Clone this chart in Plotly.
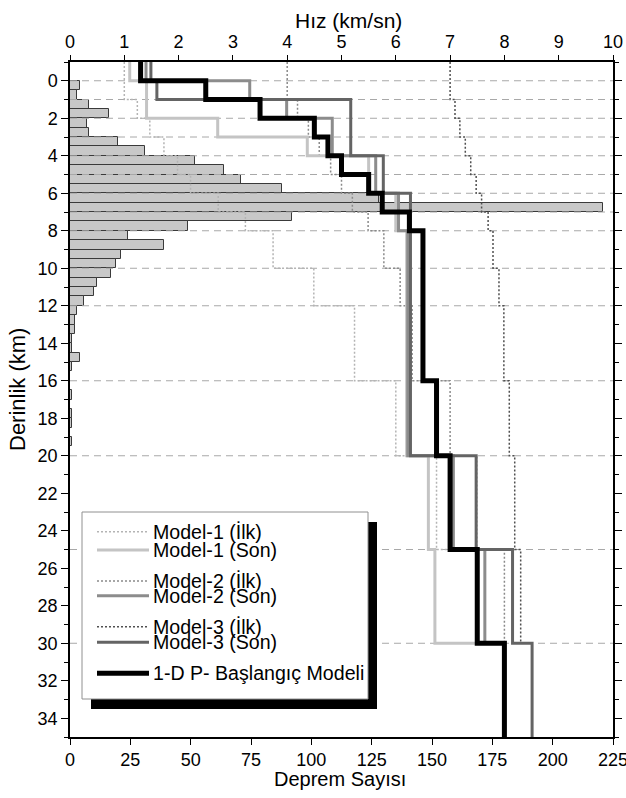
import plotly.graph_objects as go

# ---------------- data ----------------
# earthquake histogram (0.5 km depth bins)
bin_centers = [0.25 + 0.5 * i for i in range(39)]
counts = [4, 3, 8, 16, 7, 8, 20, 31, 52, 64, 71, 88, 128, 221, 92, 49, 24, 39,
          21, 19, 17, 11, 10, 6, 3, 2, 2, 1, 1, 4, 1, 0, 0, 1, 0, 1, 1, 0, 1]

# layer boundaries (dashed grid lines)
grid_depths = [0, 1, 2, 3, 4, 5, 6, 7, 8, 10, 12, 16, 20, 25, 30]

# initial models (layer tops incl. bottom) and velocities
ilk_tops = [-1, 1, 2, 3, 4, 5, 6, 7, 8, 10, 12, 16, 20, 25, 30]
m1_ilk_v = [1.0, 1.24, 1.47, 1.73, 1.98, 2.22, 2.73, 3.23, 3.74, 4.49, 5.24, 6.0, 6.75, 7.5]
m2_ilk_v = [4.0, 4.19, 4.39, 4.59, 4.8, 5.0, 5.2, 5.49, 5.78, 6.08, 6.3, 7.0, 7.49, 8.0]
m3_ilk_v = [7.0, 7.09, 7.18, 7.28, 7.38, 7.48, 7.58, 7.7, 7.79, 7.9, 7.99, 8.09, 8.19, 8.3]

# final models
m1_son_tops = [-1, 0, 2, 3, 4, 6, 8, 20, 25, 30]
m1_son_v = [1.10, 1.41, 2.72, 4.37, 5.5, 6.0, 6.2, 6.6, 6.72, 7.5]
m2_son_tops = [-1, 0, 1, 2, 4, 6, 8, 20, 25, 30]
m2_son_v = [1.40, 3.31, 3.99, 4.83, 5.63, 6.05, 6.22, 7.06, 7.64, 8.0]
m3_son_tops = [-1, 0, 1, 4, 6, 20, 25, 30, 35]
m3_son_v = [1.49, 1.6, 5.17, 5.77, 6.27, 7.48, 8.15, 8.51]

# 1-D P initial model
p1d_tops = [-1, 0, 1, 2, 3, 4, 5, 6, 7, 8, 16, 20, 25, 30, 35]
p1d_v = [1.3, 2.5, 3.5, 4.5, 4.75, 5.0, 5.5, 5.75, 6.25, 6.5, 6.75, 7.0, 7.5, 8.0]

depth_ticks = list(range(0, 35, 2))
vel_ticks = list(range(0, 11))
count_ticks = list(range(0, 226, 25))

legend_labels = ["Model-1 (İlk)", "Model-1 (Son)", "Model-2 (İlk)", "Model-2 (Son)",
                 "Model-3 (İlk)", "Model-3 (Son)", "1-D P- Başlangıç Modeli"]


def step(tops, vels):
    xs, ys = [], []
    for i, v in enumerate(vels):
        xs.append(v); ys.append(tops[i])
        if i + 1 < len(tops):
            xs.append(v); ys.append(tops[i + 1])
    return xs, ys


FONT = "Liberation Sans, Arial, sans-serif"
fig = go.Figure()

# grid lines
gx, gy = [], []
for d in grid_depths:
    gx += [0, 225, None]
    gy += [d, d, None]
fig.add_trace(go.Scatter(x=gx, y=gy, mode="lines", xaxis="x", yaxis="y",
                         line=dict(color="#a8a8a8", width=1, dash="7px,5px"),
                         hoverinfo="skip", showlegend=False))

# histogram
fig.add_trace(go.Bar(x=counts, y=bin_centers, orientation="h", width=0.5,
                     marker=dict(color="#c8c8c8", line=dict(color="#3a3a3a", width=1)),
                     xaxis="x", yaxis="y", showlegend=False))

styles = [
    (ilk_tops, m1_ilk_v, "#b4b4b4", 1.5, "2px,2px"),
    (ilk_tops, m2_ilk_v, "#8a8a8a", 1.5, "2px,2px"),
    (ilk_tops, m3_ilk_v, "#505050", 1.5, "2px,2px"),
    (m1_son_tops, m1_son_v, "#c4c4c4", 3, "solid"),
    (m2_son_tops, m2_son_v, "#8c8c8c", 3, "solid"),
    (m3_son_tops, m3_son_v, "#646464", 3, "solid"),
    (p1d_tops, p1d_v, "#000000", 5, "solid"),
]
for tops, vels, col, w, dash in styles:
    xs, ys = step(tops, vels)
    fig.add_trace(go.Scatter(x=xs, y=ys, mode="lines", xaxis="x2", yaxis="y",
                             line=dict(color=col, width=w, dash=dash, shape="linear"),
                             hoverinfo="skip", showlegend=False))

# ---- layout geometry (page pixels; body margin removed below) ----
FIG_W, FIG_H = 626, 798
L, R, T, B = 70, 613, 62, 737          # plot area in page pixels
W, H = R - L, B - T


def px(x):
    return (x - L) / W


def py(y):
    return (B - y) / H


shapes = []
shapes.append(dict(type="rect", xref="paper", yref="paper", layer="above",
                   x0=px(91), x1=px(377), y0=py(709), y1=py(522),
                   fillcolor="black", line=dict(width=0)))
shapes.append(dict(type="rect", xref="paper", yref="paper", layer="above",
                   x0=px(82), x1=px(368), y0=py(699), y1=py(512),
                   fillcolor="white", line=dict(color="#909090", width=1)))
leg_y = [531.7, 550, 581, 595.7, 626.7, 642.3, 673.3]
leg_styles = [("#b4b4b4", 1.5, "2px,2px"), ("#c4c4c4", 3, "solid"),
              ("#8a8a8a", 1.5, "2px,2px"), ("#8c8c8c", 3, "solid"),
              ("#505050", 1.5, "2px,2px"), ("#646464", 3, "solid"),
              ("#000000", 5, "solid")]
annotations = []
for yy, (col, w, dash), lab in zip(leg_y, leg_styles, legend_labels):
    shapes.append(dict(type="line", xref="paper", yref="paper", layer="above",
                       x0=px(97), x1=px(149), y0=py(yy), y1=py(yy),
                       line=dict(color=col, width=w, dash=dash)))
    annotations.append(dict(xref="paper", yref="paper", x=px(151), y=py(yy),
                            xanchor="left", yanchor="middle", showarrow=False,
                            text=lab, font=dict(family=FONT, size=19.6, color="black")))

# axis titles
annotations.append(dict(xref="paper", yref="paper", x=px(348), y=py(20), showarrow=False,
                        xanchor="center", yanchor="middle", text="Hız (km/sn)",
                        font=dict(family=FONT, size=21, color="black")))
annotations.append(dict(xref="paper", yref="paper", x=px(340), y=py(779), showarrow=False,
                        xanchor="center", yanchor="middle", text="Deprem Sayısı",
                        font=dict(family=FONT, size=20, color="black")))
annotations.append(dict(xref="paper", yref="paper", x=px(18), y=py(390), showarrow=False,
                        xanchor="center", yanchor="middle", text="Derinlik (km)", textangle=-90,
                        font=dict(family=FONT, size=22, color="black")))

tickfont = dict(family=FONT, size=18, color="black")
fig.update_layout(
    width=FIG_W, height=FIG_H,
    margin=dict(l=L, r=FIG_W - R, t=T, b=FIG_H - B, autoexpand=False),
    paper_bgcolor="white", plot_bgcolor="white",
    showlegend=False,
    bargap=0,
    xaxis=dict(range=[0, 225], tickvals=count_ticks, ticks="outside", ticklen=6,
               tickcolor="black", showline=True, linecolor="black", linewidth=1.5,
               showgrid=False, zeroline=False, tickfont=tickfont, side="bottom",
               automargin=False, ticklabeloverflow="allow"),
    xaxis2=dict(range=[0, 10], tickvals=vel_ticks, ticks="outside", ticklen=5,
                tickcolor="black", showline=True, linecolor="black", linewidth=1.5,
                showgrid=False, zeroline=False, tickfont=tickfont, side="top",
                overlaying="x", anchor="y", automargin=False, ticklabeloverflow="allow"),
    yaxis=dict(range=[35, -1], tickvals=depth_ticks, ticks="outside", ticklen=7,
               tickcolor="black", showline=True, linecolor="black", linewidth=1.5,
               mirror="ticks", showgrid=False, zeroline=False, tickfont=tickfont,
               automargin=False,
               minor=dict(dtick=1, tick0=0, ticks="outside", ticklen=4, tickcolor="black",
                          showgrid=False)),
    shapes=shapes,
    annotations=annotations,
)

fig.write_html("out.html", config={"displayModeBar": False})

# remove the default page margin so the figure fills the window exactly
with open("out.html", "r", encoding="utf-8") as f:
    html = f.read()
html = html.replace("<head>", "<head><style>html,body{margin:0;padding:0;overflow:hidden;}</style>", 1)
with open("out.html", "w", encoding="utf-8") as f:
    f.write(html)
